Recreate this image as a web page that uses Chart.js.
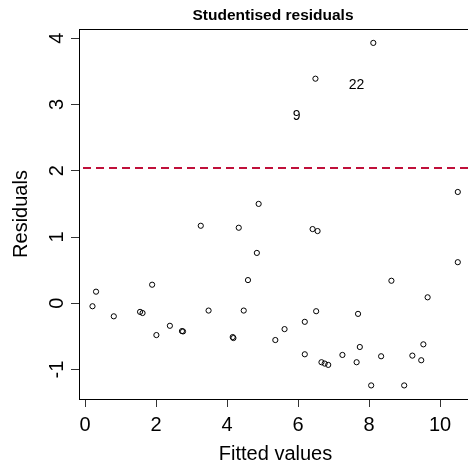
<!DOCTYPE html>
<html>
<head>
<meta charset="utf-8">
<script src="https://cdn.jsdelivr.net/npm/chart.js@4/dist/chart.umd.min.js"></script>
<style>
  html, body { margin: 0; padding: 0; background: #fff; overflow: hidden; }
  #wrap { width: 468px; height: 466px; overflow: hidden; }
</style>
</head>
<body>
<div id="wrap"><canvas id="c" width="480" height="466"></canvas></div>
<script>
// fitted values vs studentised residuals
const fitted = [0.21, 0.31, 0.81, 1.55, 1.62, 1.89, 2.01, 2.39, 2.73, 2.76,
  3.26, 3.48, 4.16, 4.18, 4.33, 4.47, 4.59, 4.84, 4.89, 5.36,
  5.62, 6.19, 6.19, 6.41, 6.49, 6.51, 6.55, 6.66, 6.75, 6.85,
  7.25, 7.65, 7.69, 7.74, 8.06, 8.12, 8.34, 8.63, 8.99, 9.22,
  9.47, 9.53, 9.65, 10.5, 10.5];
const residuals = [-0.045, 0.175, -0.197, -0.13, -0.147, 0.28, -0.48, -0.34, -0.42, -0.425,
  1.17, -0.11, -0.51, -0.525, 1.14, -0.11, 0.35, 0.76, 1.5, -0.555,
  -0.39, -0.28, -0.77, 1.12, 3.39, -0.12, 1.09, -0.89, -0.91, -0.93,
  -0.78, -0.89, -0.16, -0.66, -1.24, 3.93, -0.80, 0.34, -1.24, -0.79,
  -0.86, -0.62, 0.09, 0.62, 1.68];

const xTicks = [0, 2, 4, 6, 8, 10];
const yTicks = [-1, 0, 1, 2, 3, 4];

const threshold = 2.04;

// point labels as they sit in the plot
const labelText = ['9', '22'];
const labelX = [5.96, 7.65];
const labelY = [2.83, 3.30];

const FONT = '"Liberation Sans", Arial, Helvetica, sans-serif';

const rPlot = {
  id: 'rPlot',
  afterDraw(chart) {
    const ctx = chart.ctx;
    const a = chart.chartArea;
    const xs = chart.scales.x, ys = chart.scales.y;
    ctx.save();

    // top edge of the box
    ctx.strokeStyle = '#000';
    ctx.lineWidth = 1;
    ctx.beginPath();
    ctx.moveTo(a.left, a.top + 0.5);
    ctx.lineTo(a.right, a.top + 0.5);
    ctx.stroke();

    // dashed threshold line
    const ty = ys.getPixelForValue(threshold);
    ctx.strokeStyle = '#c0103a';
    ctx.lineWidth = 2;
    ctx.setLineDash([8, 5]);
    ctx.beginPath();
    ctx.moveTo(a.left + 4, ty);
    ctx.lineTo(a.right, ty);
    ctx.stroke();
    ctx.setLineDash([]);

    // title
    ctx.fillStyle = '#000';
    ctx.font = 'bold 15.5px ' + FONT;
    ctx.textAlign = 'center';
    ctx.textBaseline = 'alphabetic';
    ctx.fillText('Studentised residuals', 273, 19.5);

    // y tick labels, rotated like R
    ctx.font = '20px ' + FONT;
    yTicks.forEach(v => {
      const py = ys.getPixelForValue(v);
      ctx.save();
      ctx.translate(63, py);
      ctx.rotate(-Math.PI / 2);
      ctx.fillText(String(v), 0, 0);
      ctx.restore();
    });

    // point labels
    ctx.font = '14px ' + FONT;
    ctx.textBaseline = 'middle';
    labelText.forEach((t, i) => {
      ctx.fillText(t, xs.getPixelForValue(labelX[i]), ys.getPixelForValue(labelY[i]));
    });
    ctx.restore();
  }
};

new Chart(document.getElementById('c'), {
  type: 'scatter',
  data: {
    datasets: [{
      data: fitted.map((x, i) => ({ x: x, y: residuals[i] })),
      pointStyle: 'circle',
      pointRadius: 2.6,
      pointBorderWidth: 1,
      borderColor: '#000',
      backgroundColor: 'rgba(0,0,0,0)'
    }]
  },
  options: {
    responsive: false,
    animation: false,
    layout: { padding: { top: 29, right: 8, left: 0, bottom: 0 } },
    plugins: { legend: { display: false }, tooltip: { enabled: false } },
    scales: {
      x: {
        type: 'linear',
        min: -0.17,
        max: 10.9,
        afterBuildTicks: s => { s.ticks = xTicks.map(v => ({ value: v })); },
        afterFit: s => { s.height = 67; },
        grid: { drawOnChartArea: false, drawTicks: true, tickLength: 8, color: '#333' },
        border: { display: true, color: '#000', width: 1 },
        ticks: { color: '#000', padding: 6, maxRotation: 0, font: { family: FONT, size: 20 } },
        title: { display: true, text: 'Fitted values', color: '#000', padding: { top: 0, bottom: 0 }, font: { family: FONT, size: 20 } }
      },
      y: {
        type: 'linear',
        min: -1.445,
        max: 4.14,
        afterBuildTicks: s => { s.ticks = yTicks.map(v => ({ value: v })); },
        afterFit: s => { s.width = 79; },
        grid: { drawOnChartArea: false, drawTicks: true, tickLength: 8, color: '#333' },
        border: { display: true, color: '#000', width: 1 },
        ticks: { display: false },
        title: { display: true, text: 'Residuals', color: '#000', padding: { top: 9, bottom: 0 }, font: { family: FONT, size: 20 } }
      }
    }
  },
  plugins: [rPlot]
});
</script>
</body>
</html>
